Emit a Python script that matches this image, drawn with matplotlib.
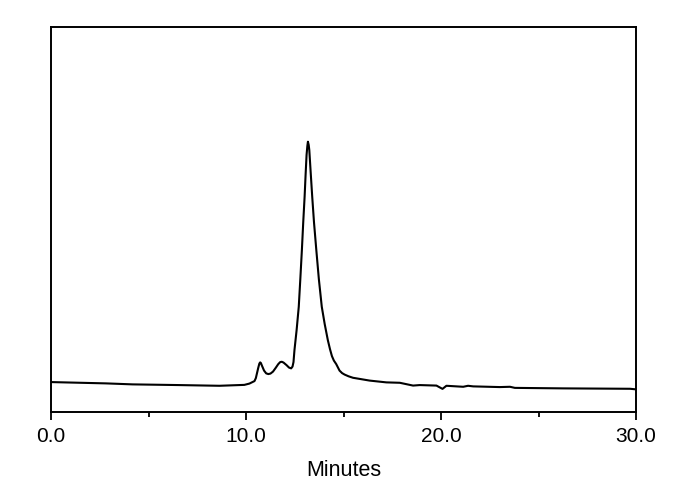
import numpy as np
import matplotlib.pyplot as plt
from matplotlib.ticker import MultipleLocator, FormatStrFormatter

# chromatogram trace (minutes, detector signal in arbitrary units)
minutes = [0.00, 2.81, 4.18, 6.58, 8.63, 9.91, 10.17, 10.43, 10.50, 10.62,
           10.68, 10.72, 10.76, 10.80, 10.92, 11.03, 11.14, 11.25, 11.38, 11.51,
           11.65, 11.75, 11.83, 11.92, 12.07, 12.20, 12.31, 12.38, 12.43, 12.48,
           12.59, 12.70, 12.78, 12.86, 12.93, 13.00, 13.05, 13.10, 13.14, 13.17,
           13.21, 13.24, 13.31, 13.39, 13.48, 13.60, 13.73, 13.88, 14.03, 14.19,
           14.30, 14.40, 14.50, 14.62, 14.79, 14.92, 15.05, 15.25, 15.48, 16.33,
           17.19, 17.88, 18.56, 18.90, 19.76, 19.90, 20.07, 20.27, 21.13, 21.38,
           21.64, 23.01, 23.53, 23.78, 26.27, 29.69, 30.00]
signal = [30.0, 28.7, 27.7, 27.0, 26.3, 27.2, 28.5, 31.0, 34.0, 44.0,
          48.5, 49.7, 49.0, 47.0, 41.5, 38.7, 38.0, 38.5, 40.5, 44.0,
          48.0, 50.0, 50.3, 49.5, 47.0, 44.5, 43.7, 45.5, 50.0, 62.0,
          82.0, 105.3, 133.0, 162.0, 190.0, 215.3, 237.0, 257.0, 266.0, 270.3,
          267.0, 262.0, 240.0, 215.3, 190.0, 162.0, 133.0, 105.3, 88.0, 72.0,
          63.0, 56.0, 51.5, 48.0, 41.5, 39.0, 37.5, 35.8, 34.3, 31.5,
          29.7, 29.3, 26.5, 27.0, 26.5, 25.0, 23.2, 26.3, 25.3, 26.3,
          25.7, 25.0, 25.3, 24.2, 23.7, 23.3, 22.7]

plt.rcParams['font.family'] = ['Liberation Sans', 'DejaVu Sans']

fig = plt.figure(figsize=(6.9, 4.9), dpi=100)
ax = fig.add_axes([0.074, 0.159, 0.848, 0.786])
ax.plot(minutes, signal, color='black', linewidth=1.5, solid_joinstyle='round')

ax.set_xlim(0, 30)
ax.set_ylim(0, 385)
ax.xaxis.set_major_locator(MultipleLocator(10))
ax.xaxis.set_minor_locator(MultipleLocator(5))
ax.xaxis.set_major_formatter(FormatStrFormatter('%.1f'))
ax.tick_params(axis='x', which='major', direction='out', length=6, width=1.3,
               labelsize=15, pad=5)
ax.tick_params(axis='x', which='minor', direction='out', length=3.5, width=1.3)
ax.set_yticks([])
for s in ax.spines.values():
    s.set_linewidth(1.4)

ax.set_xlabel('Minutes', fontsize=15.5, labelpad=10)

plt.savefig('out.png')
